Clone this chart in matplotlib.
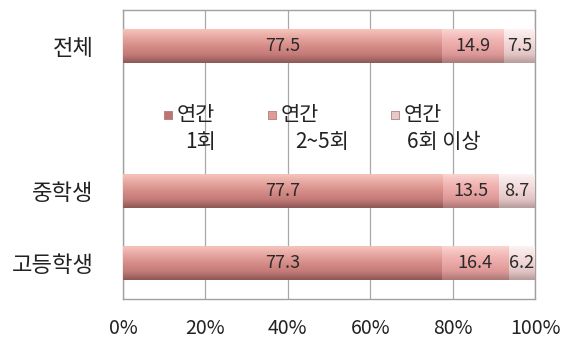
import numpy as np
import matplotlib
matplotlib.use('Agg')
import matplotlib.pyplot as plt
from matplotlib.colors import LinearSegmentedColormap

plt.rcParams['font.family'] = ['Noto Sans CJK KR', 'DejaVu Sans']

# ============ 데이터 ============
CATEGORIES = ['전체', '', '중학생', '고등학생']
SERIES = ['연간\n1회', '연간\n2~5회', '연간\n6회 이상']
ONCE = [77.5, None, 77.7, 77.3]
TWO_FIVE = [14.9, None, 13.5, 16.4]
SIX_PLUS = [7.5, None, 8.7, 6.2]
XTICKS = [0, 20, 40, 60, 80, 100]

# 그라데이션 (위 -> 아래)
GRADS = [
    ['#f6c4bc', '#e6a6a0', '#d68d88', '#c57c78', '#8e5856'],
    ['#fad4d0', '#f2bab8', '#eaa8a6', '#dc9897', '#ad7878'],
    ['#fcf2f2', '#f6e2e2', '#efd4d4', '#e2c4c4', '#b89c9c'],
]
MARK_COLORS = ['#c0726f', '#e09a98', '#e8c8c8']

fig = plt.figure(figsize=(5.65, 3.44), dpi=100)
ax = fig.add_axes([0.2177, 0.131, 0.7293, 0.840])

ypos = np.arange(len(CATEGORIES))[::-1]  # 전체 맨 위
bar_h = 0.47

left = np.zeros(len(CATEGORIES))
for k, vals in enumerate([ONCE, TWO_FIVE, SIX_PLUS]):
    w = np.array([0 if v is None else v for v in vals], dtype=float)
    bars = ax.barh(ypos, w, left=left, height=bar_h, color='none',
                   edgecolor='none', zorder=3)
    cmap = LinearSegmentedColormap.from_list('g%d' % k, GRADS[k])
    grad = np.linspace(0, 1, 64).reshape(-1, 1)
    for b, v in zip(bars, vals):
        if v is None:
            continue
        x0, y0 = b.get_x(), b.get_y()
        im = ax.imshow(grad, cmap=cmap, aspect='auto', origin='upper',
                       extent=[x0, x0 + b.get_width(), y0, y0 + b.get_height()],
                       zorder=3, interpolation='bilinear')
        im.set_clip_path(b)
        ax.text(x0 + b.get_width() / 2, y0 + b.get_height() / 2, f'{v}',
                ha='center', va='center', fontsize=13, color='#2a2a2a', zorder=5)
    left = left + w

# 범례 (빈 자리에)
leg_x = [0.109, 0.362, 0.66]
line2_x = [0.150, 0.417, 0.689]
for k, lab in enumerate(SERIES):
    l1, l2 = lab.split('\n')
    ax.scatter([leg_x[k]], [0.637], marker='s', s=30, color=MARK_COLORS[k],
               edgecolors='#a07070', linewidths=0.5, transform=ax.transAxes, zorder=6)
    ax.text(leg_x[k] + 0.020, 0.637, l1, transform=ax.transAxes, fontsize=15,
            ha='left', va='center', color='#222222')
    ax.text(line2_x[k], 0.543, l2, transform=ax.transAxes,
            fontsize=15, ha='left', va='center', color='#222222')

ax.set_xlim(0, 100)
ax.set_ylim(-0.5, len(CATEGORIES) - 0.5)
ax.set_xticks(XTICKS)
ax.set_xticklabels([f'{t}%' for t in XTICKS], fontsize=14)
ax.set_yticks(ypos)
ax.set_yticklabels(CATEGORIES, fontsize=16)
ax.tick_params(axis='both', length=0, colors='#222222')
ax.tick_params(axis='y', pad=21)
ax.tick_params(axis='x', pad=14)

ax.grid(axis='x', color='#a8a8a8', linewidth=0.9, zorder=0)
ax.set_axisbelow(True)
for s in ax.spines.values():
    s.set_color('#a0a0a0')
    s.set_linewidth(1.0)

fig.savefig('out.png', dpi=100, facecolor='white')
